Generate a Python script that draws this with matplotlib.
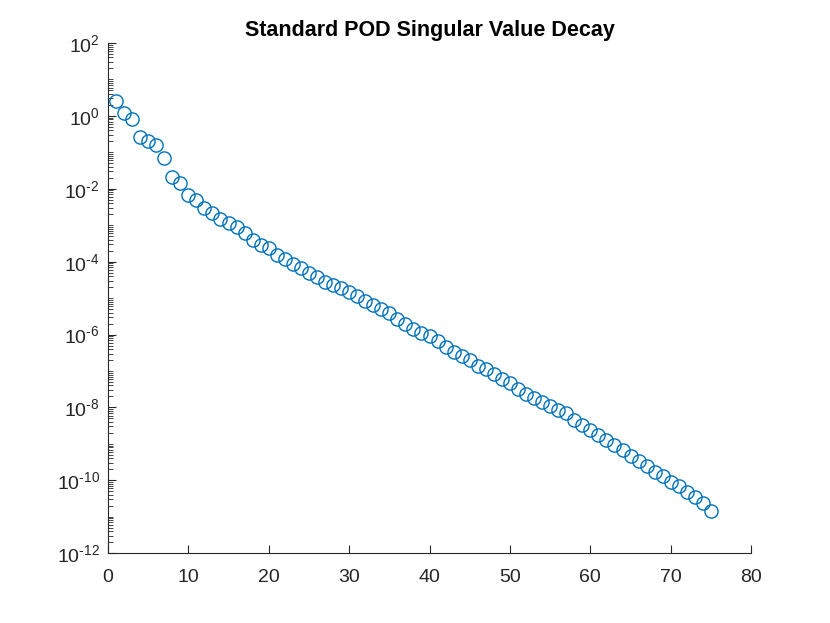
import numpy as np
import matplotlib
matplotlib.use('Agg')
import matplotlib.pyplot as plt
from matplotlib.ticker import LogLocator, NullFormatter, MultipleLocator, FuncFormatter

plt.rcParams['font.family'] = ['Liberation Sans', 'DejaVu Sans']
plt.rcParams['mathtext.fontset'] = 'custom'
plt.rcParams['mathtext.rm'] = 'Liberation Sans'
plt.rcParams['mathtext.it'] = 'Liberation Sans:italic'
plt.rcParams['mathtext.bf'] = 'Liberation Sans:bold'

# mode index
modes = list(range(1, 76))

# singular values
sigma = [
    2.6, 1.2, 8.3e-1, 2.6e-1, 2.1e-1, 1.6e-1, 7.1e-2, 2.1e-2, 1.45e-2, 6.9e-3,
    5.0e-3, 3.0e-3, 2.1e-3, 1.5e-3, 1.17e-3, 9.1e-4, 6.2e-4, 4.0e-4, 2.95e-4, 2.3e-4,
    1.55e-4, 1.2e-4, 8.9e-5, 6.5e-5, 5.0e-5, 3.9e-5, 2.8e-5, 2.3e-5, 1.95e-5, 1.5e-5,
    1.17e-5, 8.5e-6, 6.6e-6, 5.1e-6, 3.8e-6, 2.75e-6, 2.0e-6, 1.45e-6, 1.12e-6, 8.9e-7,
    6.5e-7, 4.7e-7, 3.4e-7, 2.6e-7, 1.95e-7, 1.41e-7, 1.1e-7, 8.5e-8, 6.2e-8, 4.6e-8,
    3.3e-8, 2.4e-8, 1.8e-8, 1.38e-8, 1.07e-8, 8.3e-9, 6.9e-9, 4.4e-9, 3.2e-9, 2.35e-9,
    1.7e-9, 1.26e-9, 9.1e-10, 6.6e-10, 4.8e-10, 3.3e-10, 2.4e-10, 1.66e-10, 1.29e-10, 8.9e-11,
    6.9e-11, 4.7e-11, 3.6e-11, 2.35e-11, 1.41e-11,
]


def pow10(v, pos):
    e = int(round(np.log10(v)))
    if e < 0:
        return r'$10^{\text{-}%d}$' % (-e)
    return r'$10^{%d}$' % e


fig = plt.figure(figsize=(8.3, 6.23), dpi=100)
ax = fig.add_axes([0.13, 0.112, 0.775, 0.819])

ax.semilogy(modes, sigma, 'o', mfc='none', mec='#0072BD', ms=9.5, mew=1.0)

ax.set_xlim(0, 80)
ax.set_ylim(1e-12, 1e2)
ax.xaxis.set_major_locator(MultipleLocator(10))
ax.yaxis.set_major_locator(LogLocator(base=10, subs=(1.0,), numticks=8))
ax.yaxis.set_major_formatter(FuncFormatter(pow10))
ax.yaxis.set_minor_locator(LogLocator(base=10, subs=np.arange(1, 10), numticks=30))
ax.yaxis.set_minor_formatter(NullFormatter())

for s in ['top', 'right']:
    ax.spines[s].set_visible(False)
for s in ['left', 'bottom']:
    ax.spines[s].set_color('#262626')
    ax.spines[s].set_linewidth(0.8)

ax.tick_params(axis='both', which='both', direction='in', colors='#262626', labelsize=14)
ax.tick_params(axis='both', which='major', length=6, width=0.8)
ax.tick_params(axis='x', which='major', pad=11)
ax.tick_params(axis='y', which='major', pad=6)
ax.tick_params(axis='y', which='minor', length=3.5, width=0.6)
ax.tick_params(axis='x', which='minor', length=0)

ax.set_title('Standard POD Singular Value Decay', fontsize=15.5, fontweight='bold', y=1.0, pad=5)

fig.savefig('out.png', dpi=100)
